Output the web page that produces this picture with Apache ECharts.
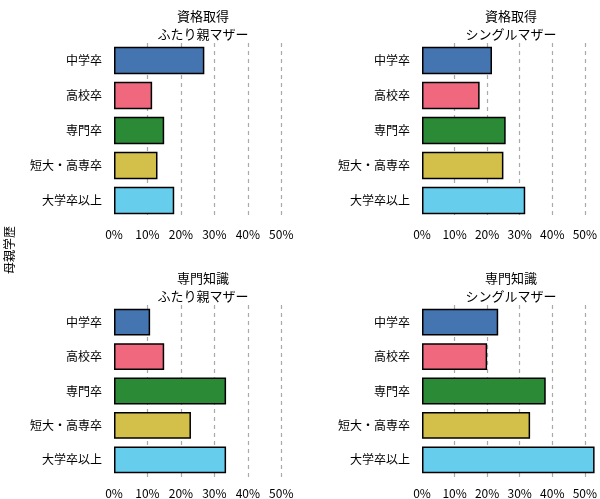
<!DOCTYPE html><html><head><meta charset="utf-8"><script src="https://cdn.jsdelivr.net/npm/echarts@6/dist/echarts.min.js"></script>
<style>body{margin:0}#c{width:600px;height:499px}</style></head><body><div id="c"></div><script>
const categories=['中学卒','高校卒','専門卒','短大・高専卒','大学卒以上'];
const panelTitles=['資格取得\nふたり親マザー','資格取得\nシングルマザー','専門知識\nふたり親マザー','専門知識\nシングルマザー'];
const qualTwo=[27,11.4,15,13,18];
const qualSingle=[21.5,17.7,25.7,25,31.7];
const knowTwo=[10.8,15,33.5,23,33.5];
const knowSingle=[23.4,20,38,33.2,53];
const colors=['#4575b0','#f0687e','#2a8a35','#d3c04a','#66cdec'];
const yTitle='母親学歴';
const F='Noto Sans CJK JP';
const panels=[qualTwo,qualSingle,knowTwo,knowSingle];
const pos=[[114,43],[422,43],[114,305],[422,305]];
const grids=[],xA=[],yA=[],series=[],titles=[];
panels.forEach((d,i)=>{
 grids.push({left:pos[i][0],top:pos[i][1],width:179,height:175});
 xA.push({type:'value',gridIndex:i,min:0,max:53.5,interval:10,axisLine:{show:false},axisTick:{show:false},
  axisLabel:{formatter:'{value}%',color:'#000',fontSize:12,fontFamily:F,margin:10,showMaxLabel:false},
  splitLine:{show:true,showMaxLine:false,showMinLine:false,lineStyle:{type:[4,4],color:'#aaa',width:1.2}}});
 yA.push({type:'category',gridIndex:i,data:categories,inverse:true,axisLine:{show:false},axisTick:{show:false},
  axisLabel:{color:'#000',fontSize:12,fontFamily:F,margin:12}});
 series.push({type:'bar',xAxisIndex:i,yAxisIndex:i,barCategoryGap:'22%',
  data:d.map((v,j)=>({value:v,itemStyle:{color:colors[j]}})),itemStyle:{borderColor:'#000',borderWidth:1.5}});
 titles.push({text:panelTitles[i],left:pos[i][0]+84,top:pos[i][1]-41,textAlign:'center',
  textStyle:{fontSize:13,fontWeight:'normal',fontFamily:F,color:'#000',lineHeight:18}});
});
const ch=echarts.init(document.getElementById('c'));
ch.setOption({animation:false,title:titles,grid:grids,xAxis:xA,yAxis:yA,series:series,
 graphic:[{type:'text',x:9,y:250,rotation:Math.PI/2,style:{text:yTitle,font:'12px "'+F+'"',fill:'#000',align:'center',verticalAlign:'middle'}}]});
</script></body></html>
